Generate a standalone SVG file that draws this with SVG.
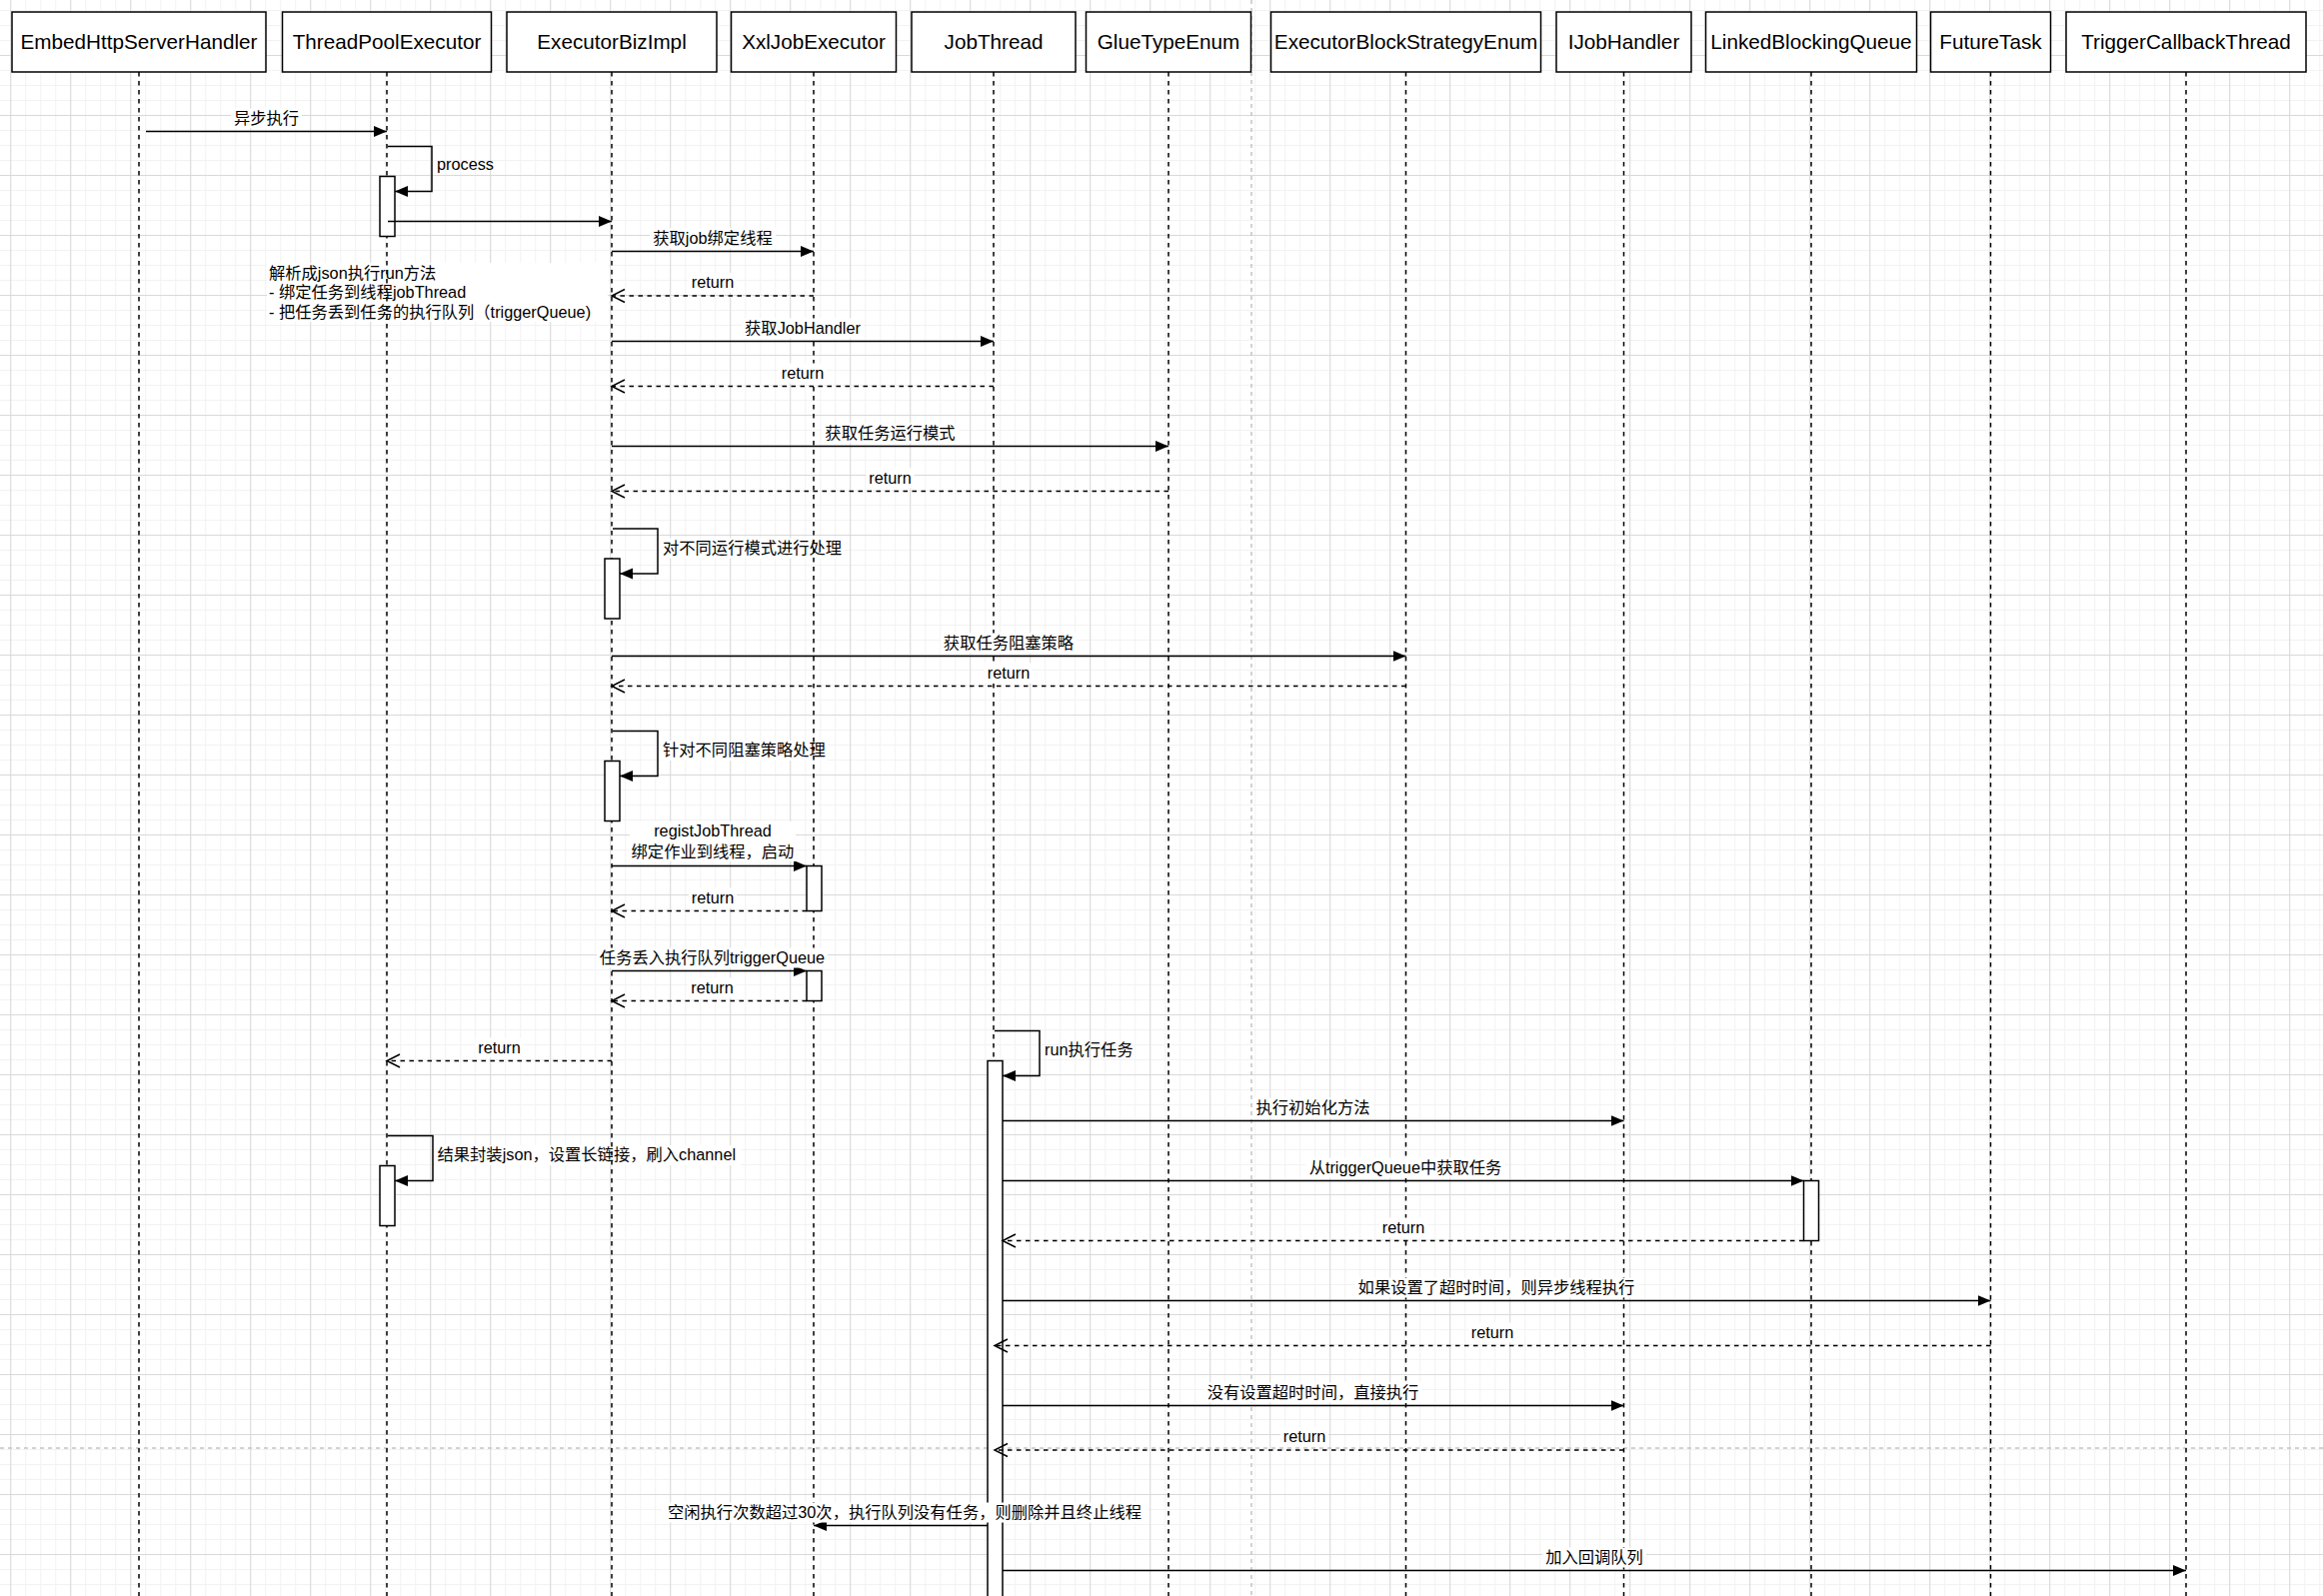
<svg xmlns="http://www.w3.org/2000/svg" width="2324" height="1597" viewBox="0 0 2324 1597">
<style>
text{font-family:'Liberation Sans','Noto Sans CJK SC',sans-serif;fill:#000}
.title{font-size:20.7px;text-anchor:middle}
.lbl{font-size:16.3px;text-anchor:middle}
.lbll{font-size:16.3px;text-anchor:start}
.box{fill:#fff;stroke:#000;stroke-width:1.5}
.life{stroke:#000;stroke-width:1.5;stroke-dasharray:4.5 4.5;fill:none}
.msg{stroke:#000;stroke-width:1.5;fill:none;marker-end:url(#block)}
.ret{stroke:#000;stroke-width:1.5;fill:none;stroke-dasharray:4.5 4.5;marker-end:url(#open)}
.self{stroke:#000;stroke-width:1.5;fill:none;marker-end:url(#block)}
.act{fill:#fff;stroke:#000;stroke-width:1.5}
.bg{fill:#fff}
.pb{stroke:#c4c4c4;stroke-width:1.5;stroke-dasharray:4 4;fill:none}
</style>
<defs>
<pattern id="gMinor" patternUnits="userSpaceOnUse" x="10.2" y="10" width="15" height="15"><path d="M0 0.5H15M0.5 0V15" stroke="#f2f2f2" stroke-width="1" fill="none"/></pattern>
<pattern id="gMajor" patternUnits="userSpaceOnUse" x="10.2" y="55" width="60" height="60"><path d="M0 0.5H60M0.5 0V60" stroke="#d9d9d9" stroke-width="1" fill="none"/></pattern>
<marker id="block" markerUnits="userSpaceOnUse" markerWidth="14" markerHeight="12" refX="13" refY="6" orient="auto"><path d="M0,0.5 L13,6 L0,11.5 Z" fill="#000" stroke="none"/></marker>
<marker id="open" markerUnits="userSpaceOnUse" markerWidth="16" markerHeight="16" refX="14" refY="8" orient="auto"><path d="M1,1.5 L14,8 L1,14.5" fill="none" stroke="#000" stroke-width="1.5" stroke-dasharray="none"/></marker>
</defs>
<g id="grid">
<rect x="0" y="0" width="2324" height="1597" fill="#fff"/>
<rect x="0" y="0" width="2324" height="1597" fill="url(#gMinor)"/>
<rect x="0" y="0" width="2324" height="1597" fill="url(#gMajor)"/>
<path class="pb" d="M1252 0V1597"/>
<path class="pb" d="M0 1449H2324" stroke-dasharray="2 2"/>
</g>
<g id="note-bgs">
<rect class="bg" x="267" y="263" width="341" height="59"/>
<rect class="bg" x="661" y="538.5" width="184" height="20"/>
<rect class="bg" x="661" y="741" width="167" height="20"/>
<rect class="bg" x="436" y="1146" width="305" height="20"/>
</g>
<g id="node-EmbedHttpServerHandler"><rect class="box" x="12" y="12" width="254" height="60"/><text class="title" x="139" y="49.3">EmbedHttpServerHandler</text><path class="life" d="M139 72V1597"/></g>
<g id="node-ThreadPoolExecutor"><rect class="box" x="282.5" y="12" width="209" height="60"/><text class="title" x="387" y="49.3">ThreadPoolExecutor</text><path class="life" d="M387 72V1597"/></g>
<g id="node-ExecutorBizImpl"><rect class="box" x="507" y="12" width="210" height="60"/><text class="title" x="612" y="49.3">ExecutorBizImpl</text><path class="life" d="M612 72V1597"/></g>
<g id="node-XxlJobExecutor"><rect class="box" x="731.5" y="12" width="165" height="60"/><text class="title" x="814" y="49.3">XxlJobExecutor</text><path class="life" d="M814 72V1597"/></g>
<g id="node-JobThread"><rect class="box" x="912" y="12" width="164" height="60"/><text class="title" x="994" y="49.3">JobThread</text><path class="life" d="M994 72V1597"/></g>
<g id="node-GlueTypeEnum"><rect class="box" x="1086.5" y="12" width="165" height="60"/><text class="title" x="1169" y="49.3">GlueTypeEnum</text><path class="life" d="M1169 72V1597"/></g>
<g id="node-ExecutorBlockStrategyEnum"><rect class="box" x="1271.5" y="12" width="270" height="60"/><text class="title" x="1406.5" y="49.3">ExecutorBlockStrategyEnum</text><path class="life" d="M1406.5 72V1597"/></g>
<g id="node-IJobHandler"><rect class="box" x="1557" y="12" width="135" height="60"/><text class="title" x="1624.5" y="49.3">IJobHandler</text><path class="life" d="M1624.5 72V1597"/></g>
<g id="node-LinkedBlockingQueue"><rect class="box" x="1706.5" y="12" width="211" height="60"/><text class="title" x="1812" y="49.3">LinkedBlockingQueue</text><path class="life" d="M1812 72V1597"/></g>
<g id="node-FutureTask"><rect class="box" x="1931.5" y="12" width="120" height="60"/><text class="title" x="1991.5" y="49.3">FutureTask</text><path class="life" d="M1991.5 72V1597"/></g>
<g id="node-TriggerCallbackThread"><rect class="box" x="2067" y="12" width="240" height="60"/><text class="title" x="2187" y="49.3">TriggerCallbackThread</text><path class="life" d="M2187 72V1597"/></g>
<g id="activations">
<rect class="act" x="380" y="176.5" width="15" height="60"/>
<rect class="act" x="605" y="559" width="15" height="60"/>
<rect class="act" x="605" y="761.5" width="15" height="60"/>
<rect class="act" x="807" y="866.5" width="15" height="45"/>
<rect class="act" x="807" y="971.5" width="15" height="30"/>
<rect class="act" x="380" y="1166.5" width="15" height="60"/>
<rect class="act" x="988" y="1061.5" width="15" height="545"/>
<rect class="act" x="1804.5" y="1181.5" width="15" height="60"/>
</g>
<g id="connectors">
<path class="msg" d="M146 131.5H387"/>
<path class="self" d="M388 146.5H432V191.5H395"/>
<path class="msg" d="M388 221.5H612"/>
<path class="msg" d="M612 251.5H814"/>
<path class="ret" d="M814 296H612"/>
<path class="msg" d="M612 341.5H994"/>
<path class="ret" d="M994 386.5H612"/>
<path class="msg" d="M612 446.5H1169"/>
<path class="ret" d="M1169 491.5H612"/>
<path class="self" d="M613 529H658V574H620"/>
<path class="msg" d="M612 656.5H1406.5"/>
<path class="ret" d="M1406.5 686.5H612"/>
<path class="self" d="M613 731.5H658V776.5H620"/>
<path class="msg" d="M612 866.5H807"/>
<path class="ret" d="M807 911.5H612"/>
<path class="msg" d="M612 971.5H807"/>
<path class="ret" d="M807 1001.5H612"/>
<path class="self" d="M995 1031.5H1040V1076.5H1003"/>
<path class="ret" d="M612 1061.5H387"/>
<path class="msg" d="M1003 1121.5H1624.5"/>
<path class="self" d="M388 1136.5H433V1181.5H395"/>
<path class="msg" d="M1003 1181.5H1804.5"/>
<path class="ret" d="M1804.5 1241.5H1003"/>
<path class="msg" d="M1003 1301.5H1991.5"/>
<path class="ret" d="M1991.5 1346.5H995"/>
<path class="msg" d="M1003 1406.5H1624.5"/>
<path class="ret" d="M1624.5 1451H995"/>
<path class="msg" d="M988 1526.5H814"/>
<path class="msg" d="M1003 1571.5H2187"/>
</g>
<g id="labels">
<rect class="bg" x="231" y="108.5" width="71" height="20"/><text class="lbl" x="266.5" y="123.5">异步执行</text>
<text class="lbll" x="437" y="170">process</text>
<text class="lbll" x="269" y="278.5">解析成json执行run方法</text>
<text class="lbll" x="269" y="298">- 绑定任务到线程jobThread</text>
<text class="lbll" x="269" y="317.5">- 把任务丢到任务的执行队列（triggerQueue)</text>
<rect class="bg" x="650" y="228.5" width="126" height="20"/><text class="lbl" x="713" y="243.5">获取job绑定线程</text>
<rect class="bg" x="689" y="273" width="48" height="20"/><text class="lbl" x="713" y="288">return</text>
<rect class="bg" x="742" y="318.5" width="122" height="20"/><text class="lbl" x="803" y="333.5">获取JobHandler</text>
<rect class="bg" x="779" y="363.5" width="48" height="20"/><text class="lbl" x="803" y="378.5">return</text>
<rect class="bg" x="822.5" y="423.5" width="136" height="20"/><text class="lbl" x="890.5" y="438.5">获取任务运行模式</text>
<rect class="bg" x="866.5" y="468.5" width="48" height="20"/><text class="lbl" x="890.5" y="483.5">return</text>
<text class="lbll" x="663" y="553.5">对不同运行模式进行处理</text>
<rect class="bg" x="941" y="633.5" width="136" height="20"/><text class="lbl" x="1009" y="648.5">获取任务阻塞策略</text>
<rect class="bg" x="985" y="663.5" width="48" height="20"/><text class="lbl" x="1009" y="678.5">return</text>
<text class="lbll" x="663" y="756">针对不同阻塞策略处理</text>
<rect class="bg" x="630" y="822" width="166" height="40"/><text class="lbl" x="713" y="837">registJobThread</text><text class="lbl" x="713" y="857.5">绑定作业到线程，启动</text>
<rect class="bg" x="689" y="888.5" width="48" height="20"/><text class="lbl" x="713" y="903.5">return</text>
<rect class="bg" x="597" y="948.5" width="231" height="20"/><text class="lbl" x="712.5" y="963.5">任务丢入执行队列triggerQueue</text>
<rect class="bg" x="688.5" y="978.5" width="48" height="20"/><text class="lbl" x="712.5" y="993.5">return</text>
<text class="lbll" x="1045" y="1056">run执行任务</text>
<rect class="bg" x="475.5" y="1038.5" width="48" height="20"/><text class="lbl" x="499.5" y="1053.5">return</text>
<rect class="bg" x="1253.5" y="1098.5" width="120" height="20"/><text class="lbl" x="1313.5" y="1113.5">执行初始化方法</text>
<text class="lbll" x="437.5" y="1161">结果封装json，设置长链接，刷入channel</text>
<rect class="bg" x="1306.5" y="1158.5" width="199" height="20"/><text class="lbl" x="1406" y="1173.5">从triggerQueue中获取任务</text>
<rect class="bg" x="1380" y="1218.5" width="48" height="20"/><text class="lbl" x="1404" y="1233.5">return</text>
<rect class="bg" x="1355.5" y="1278.5" width="283" height="20"/><text class="lbl" x="1497" y="1293.5">如果设置了超时时间，则异步线程执行</text>
<rect class="bg" x="1469" y="1323.5" width="48" height="20"/><text class="lbl" x="1493" y="1338.5">return</text>
<rect class="bg" x="1204.5" y="1383.5" width="218" height="20"/><text class="lbl" x="1313.5" y="1398.5">没有设置超时时间，直接执行</text>
<rect class="bg" x="1281" y="1428" width="48" height="20"/><text class="lbl" x="1305" y="1443">return</text>
<rect class="bg" x="662" y="1503.5" width="486" height="20"/><text class="lbl" x="905" y="1518.5">空闲执行次数超过30次，执行队列没有任务，则删除并且终止线程</text>
<rect class="bg" x="1543" y="1548.5" width="104" height="20"/><text class="lbl" x="1595" y="1563.5">加入回调队列</text>
</g>
</svg>
